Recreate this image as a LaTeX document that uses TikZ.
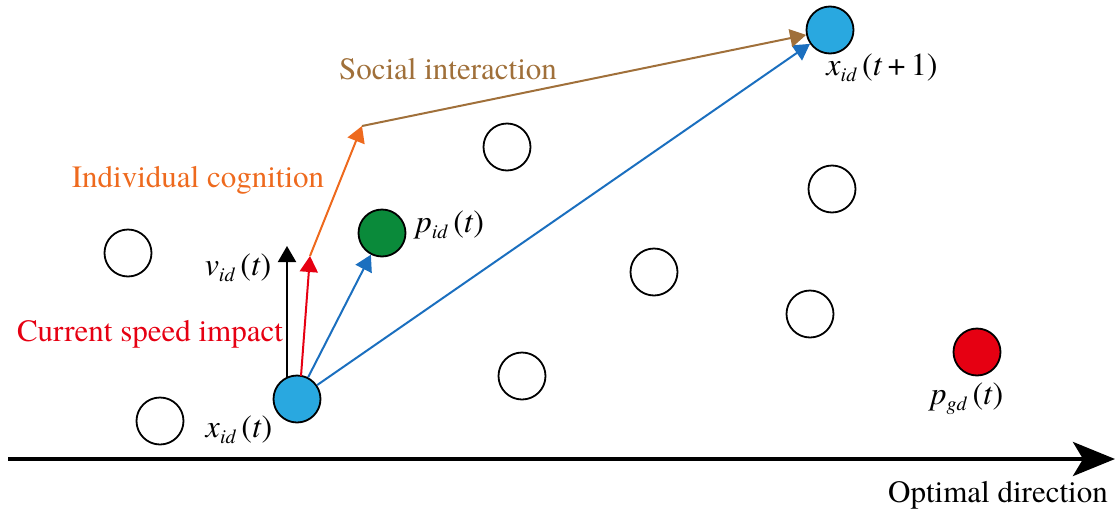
\documentclass[tikz,border=0pt]{standalone}
\usepackage{fontspec}
\IfFontExistsTF{texgyretermes-regular.otf}
  {\setmainfont{texgyretermes}[Extension=.otf,UprightFont=*-regular,ItalicFont=*-italic,BoldFont=*-bold,BoldItalicFont=*-bolditalic]}
  {\setmainfont{Liberation Serif}}
\usetikzlibrary{arrows.meta}
\definecolor{pblue}{HTML}{29A8E0}
\definecolor{ablue}{HTML}{1B6FBF}
\definecolor{ared}{HTML}{E60012}
\definecolor{aorange}{HTML}{EE6A1E}
\definecolor{abrown}{HTML}{A0703A}
\definecolor{agreen}{HTML}{0A8A3A}
\newcommand\msym[3]{\textit{#1}\raisebox{-0.4ex}{\fontsize{20}{20}\selectfont\textit{#2}}\,(#3)}
\tikzset{
  particle/.style={circle,draw=black,line width=1.8pt,minimum size=47pt,inner sep=0pt},
  empty/.style={particle,fill=white},
  vec/.style={line width=2pt,-{Triangle[length=16pt,width=18pt]}},
  lbl/.style={font=\fontsize{31}{31}\selectfont,inner sep=0pt},
  mlbl/.style={font=\fontsize{32}{32}\selectfont,inner sep=0pt}
}
\begin{document}
\begin{tikzpicture}[x=1pt,y=-1pt]
\useasboundingbox (0,0) rectangle (1117,517);
% empty circles
\node[empty] (e1) at (128,253) {};
\node[empty] (e2) at (160,421) {};
\node[empty] (e3) at (507,147) {};
\node[empty] (e4) at (654,272) {};
\node[empty] (e5) at (832,189) {};
\node[empty] (e6) at (810,314) {};
\node[empty] (e7) at (522,376) {};
% particles
\node[particle,fill=pblue] (x) at (297,399) {};
\node[particle,fill=agreen] (p) at (382,233) {};
\node[particle,fill=pblue] (x1) at (830,30) {};
\node[particle,fill=ared] (g) at (977,352) {};
% helper coordinates
\coordinate (vtip) at (287,246);
\coordinate (rtip) at (310,256);
\coordinate (otip) at (362,126);
\coordinate (xbase) at (287,377);
\coordinate (rbase) at (301,376);
% arrows
\draw[vec,black] (xbase) -- (vtip);
\draw[vec,aorange] (rtip) -- (otip);
\draw[vec,ared] (rbase) -- (rtip);
\draw[vec,ablue] (x) -- (p);
\draw[vec,ablue] (x) -- (x1);
\draw[vec,abrown] (otip) -- (x1);
% axis
\coordinate (a0) at (8,459);
\coordinate (a1) at (1115,459);
\draw[line width=4pt,-{Stealth[length=42pt,width=34pt,inset=10pt]}] (a0) -- (a1);
% labels
\node[lbl,text=abrown] (ls) at (448,69) {Social interaction};
\node[lbl,text=aorange] (li) at (198,180) {Individual cognition};
\node[lbl,text=ared] (lc) at (150,334) {Current speed impact};
\node[lbl] (lo) at (998,495) {Optimal direction};
\node[mlbl] (lv) at (238,268) {\msym{v}{id}{\textit{t}}};
\node[mlbl] (lx) at (239,430) {\msym{x}{id}{\textit{t}}};
\node[mlbl] (lp) at (450,225) {\msym{p}{id}{\textit{t}}};
\node[mlbl] (lx1) at (882,68) {\msym{x}{id}{\textit{t}\,+\,1}};
\node[mlbl] (lg) at (967,399) {\msym{p}{gd}{\textit{t}}};
\end{tikzpicture}
\end{document}
